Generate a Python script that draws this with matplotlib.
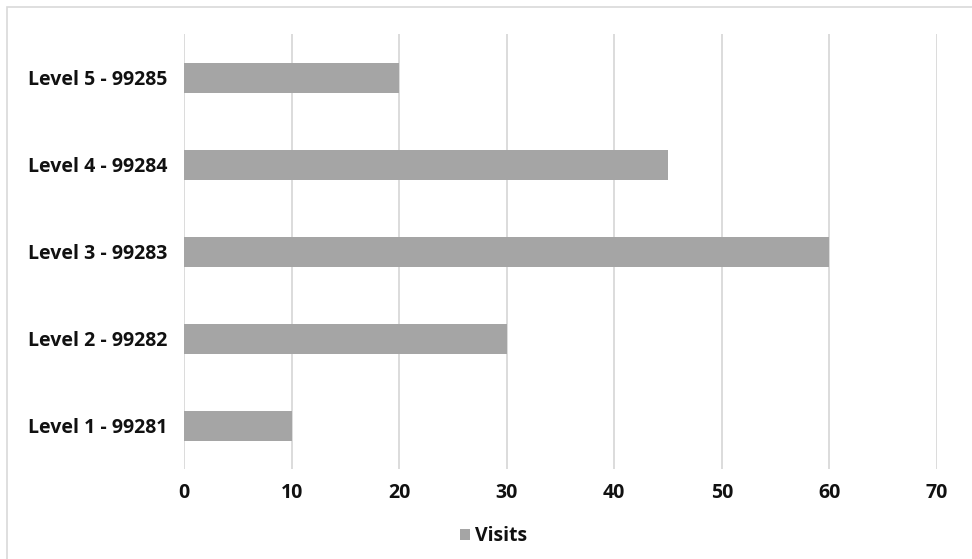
import matplotlib.pyplot as plt
from matplotlib.patches import Rectangle

plt.rcParams['font.family'] = ['Open Sans', 'DejaVu Sans']

levels = ['Level 1 - 99281', 'Level 2 - 99282', 'Level 3 - 99283',
          'Level 4 - 99284', 'Level 5 - 99285']
visits = [10, 30, 60, 45, 20]
xticks = [0, 10, 20, 30, 40, 50, 60, 70]

bar_color = '#a5a5a5'
grid_color = '#d9d9d9'
fs = 14

fig = plt.figure(figsize=(9.72, 5.59), dpi=100)
ax = fig.add_axes([0.1893, 0.161, 0.964 - 0.1893, 0.778])

ax.barh(levels, visits, height=0.345, color=bar_color, label='Visits', zorder=3)
ax.set_xlim(0, 70)
ax.set_ylim(-0.5, len(levels) - 0.5)
ax.set_xticks(xticks)
ax.xaxis.grid(True, color=grid_color, linewidth=1.3)
ax.set_axisbelow(True)
for s in ax.spines.values():
    s.set_visible(False)
ax.tick_params(length=0)
ax.tick_params(axis='x', pad=10)
ax.tick_params(axis='y', pad=12)
for lab in ax.get_xticklabels() + ax.get_yticklabels():
    lab.set_fontsize(fs)
    lab.set_fontweight('bold')
    lab.set_color('#111111')

leg = fig.legend(loc='center', bbox_to_anchor=(0.508, 0.041), frameon=False,
                 handlelength=0.5, handleheight=0.5, handletextpad=0.25,
                 prop={'weight': 'bold', 'size': fs})
for t in leg.get_texts():
    t.set_color('#111111')

# outer chart border
fig.patches.append(Rectangle((7 / 972, -0.01), 1.0, 1 - 7 / 559 + 0.01,
                             transform=fig.transFigure, fill=False,
                             edgecolor='#d9d9d9', linewidth=1.2))

fig.savefig('out.png', dpi=100)
